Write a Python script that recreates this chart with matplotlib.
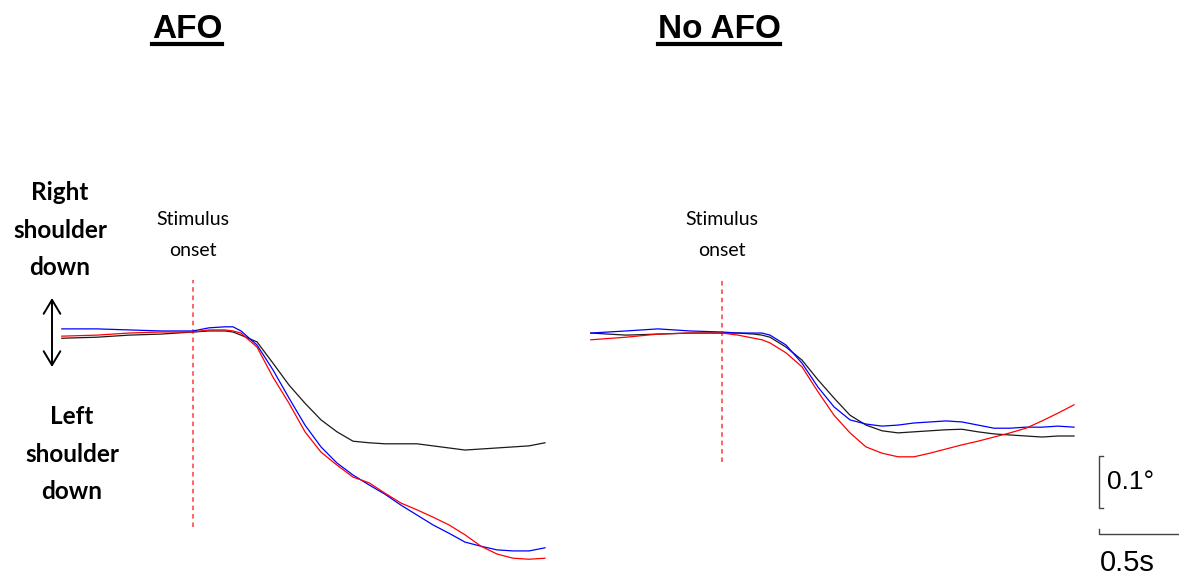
import matplotlib
matplotlib.use('Agg')
import matplotlib.pyplot as plt
from matplotlib.lines import Line2D

# time (s) relative to stimulus onset
t = [-0.82, -0.6, -0.4, -0.2, 0.0, 0.1, 0.2, 0.25, 0.3, 0.4, 0.5, 0.6, 0.7, 0.8,
     0.9, 1.0, 1.1, 1.2, 1.3, 1.4, 1.5, 1.6, 1.7, 1.8, 1.9, 2.0, 2.1, 2.2]

# shoulder angle (deg), positive = right shoulder down
afo_black = [-0.012, -0.010, -0.006, -0.004, 0.0, 0.002, 0.002, 0.0, -0.006, -0.019,
             -0.060, -0.102, -0.137, -0.169, -0.192, -0.210, -0.213, -0.215, -0.215,
             -0.215, -0.219, -0.223, -0.227, -0.225, -0.223, -0.221, -0.219, -0.213]
afo_blue = [0.006, 0.006, 0.004, 0.002, 0.002, 0.008, 0.010, 0.010, 0.002, -0.025,
            -0.073, -0.127, -0.179, -0.221, -0.252, -0.275, -0.294, -0.312, -0.333,
            -0.352, -0.371, -0.387, -0.404, -0.412, -0.419, -0.421, -0.421, -0.415]
afo_red = [-0.008, -0.006, -0.002, 0.0, 0.0, 0.004, 0.004, 0.002, -0.002, -0.029,
           -0.087, -0.137, -0.192, -0.231, -0.256, -0.279, -0.290, -0.310, -0.329,
           -0.342, -0.356, -0.371, -0.390, -0.412, -0.427, -0.435, -0.437, -0.435]

noafo_black = [-0.002, -0.006, -0.004, -0.002, -0.002, -0.002, -0.004, -0.006, -0.010,
               -0.029, -0.054, -0.092, -0.127, -0.160, -0.179, -0.190, -0.194, -0.192,
               -0.190, -0.188, -0.187, -0.192, -0.196, -0.198, -0.200, -0.202, -0.200, -0.200]
noafo_blue = [-0.002, 0.002, 0.006, 0.002, 0.0, -0.002, -0.002, -0.002, -0.006, -0.025,
              -0.060, -0.106, -0.144, -0.169, -0.177, -0.181, -0.179, -0.175, -0.173,
              -0.171, -0.173, -0.179, -0.185, -0.185, -0.183, -0.183, -0.181, -0.183]
noafo_red = [-0.015, -0.010, -0.004, -0.002, -0.002, -0.006, -0.012, -0.015, -0.021,
             -0.040, -0.067, -0.115, -0.160, -0.194, -0.221, -0.233, -0.240, -0.240,
             -0.233, -0.225, -0.217, -0.210, -0.202, -0.194, -0.185, -0.171, -0.156, -0.140]

titles = ['AFO', 'No AFO']
stim_bottom = [-0.375, -0.25]
scale_deg = 0.1
scale_s = 0.5

W, H = 1179, 577
PX_S = 160.0    # pixels per second
PX_DEG = 520.0  # pixels per degree
BASE_Y = 332

fig = plt.figure(figsize=(W / 100, H / 100), dpi=100)
fig.patch.set_facecolor('white')


def panel(x0, x1, stim_x, y0=60, y1=H):
    ax = fig.add_axes([x0 / W, 1 - y1 / H, (x1 - x0) / W, (y1 - y0) / H])
    ax.set_xlim((x0 - stim_x) / PX_S, (x1 - stim_x) / PX_S)
    ax.set_ylim((BASE_Y - y1) / PX_DEG, (BASE_Y - y0) / PX_DEG)
    ax.axis('off')
    return ax


ax1 = panel(0, 560, 193)
ax2 = panel(560, W, 722)

for ax, blk, blu, red, yb in [(ax1, afo_black, afo_blue, afo_red, stim_bottom[0]),
                              (ax2, noafo_black, noafo_blue, noafo_red, stim_bottom[1])]:
    ax.plot([0, 0], [yb, 0.1], color='#ff3b3b', lw=1.1, ls=(0, (3, 2.5)))
    ax.plot(t, blk, color='#1a1a1a', lw=0.9)
    ax.plot(t, blu, color='#0000ff', lw=0.9)
    ax.plot(t, red, color='#ff0000', lw=0.9)
    ax.text(0, (BASE_Y - 235) / PX_DEG, 'Stimulus\nonset', ha='center', va='center',
            fontsize=14, family='Lato', linespacing=1.95)

# scale bar
x_sb = (1099 - 722) / PX_S
y_top = (BASE_Y - 456) / PX_DEG
tick = 4 / PX_S
ax2.plot([x_sb + tick, x_sb, x_sb, x_sb + tick], [y_top, y_top, y_top - scale_deg, y_top - scale_deg],
         color='#444444', lw=1.0, clip_on=False)
ax2.text(x_sb + 8 / PX_S, y_top - scale_deg / 2, '0.1°', ha='left', va='center',
         fontsize=19, family='Liberation Sans')
y_h = (BASE_Y - 534) / PX_DEG
ax2.plot([x_sb, x_sb, x_sb + scale_s], [y_h + 5 / PX_DEG, y_h, y_h], color='#444444', lw=1.0,
         clip_on=False)
ax2.text(x_sb + 28 / PX_S, y_h - 29 / PX_DEG, '0.5s', ha='center', va='center',
         fontsize=21, family='Liberation Sans')

# side labels
fig.text(60 / W, 1 - 230 / H, 'Right\nshoulder\ndown', ha='center', va='center',
         fontsize=17.5, fontweight='bold', family='Lato', linespacing=1.78)
fig.text(72 / W, 1 - 454 / H, 'Left\nshoulder\ndown', ha='center', va='center',
         fontsize=17.5, fontweight='bold', family='Lato', linespacing=1.78)
ax1.annotate('', xy=(52, H - 298), xytext=(52, H - 367), xycoords='figure pixels',
             textcoords='figure pixels',
             arrowprops=dict(arrowstyle='<->,head_length=0.5,head_width=0.3',
                             mutation_scale=20, lw=1.4, color='black',
                             shrinkA=0, shrinkB=0))

# titles with underline
title_txt = []
for xc, s in zip([187, 719], titles):
    title_txt.append(fig.text(xc / W, 1 - 29 / H, s, ha='center', va='center',
                              fontsize=24, fontweight='bold', family='Liberation Sans'))
fig.canvas.draw()
r = fig.canvas.get_renderer()
for tt in title_txt:
    bb = tt.get_window_extent(r)
    fig.add_artist(Line2D([bb.x0 / W, bb.x1 / W], [1 - 44 / H, 1 - 44 / H],
                          transform=fig.transFigure, color='black', lw=3))

fig.savefig('out.png', dpi=100, facecolor='white')
